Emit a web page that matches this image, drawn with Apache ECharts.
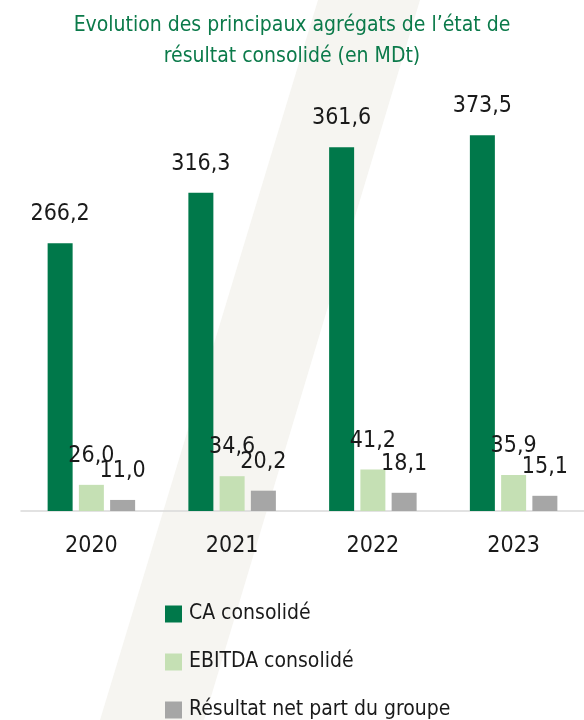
<!DOCTYPE html>
<html>
<head>
<meta charset="utf-8">
<style>html,body{margin:0;padding:0;background:#fff;}#chart{width:584px;height:720px;}</style>
<script src="https://cdn.jsdelivr.net/npm/echarts@6/dist/echarts.min.js"></script>
</head>
<body>
<div id="chart"></div>
<script>
const categories = ['2020', '2021', '2022', '2023'];
const caConsolide = [266.2, 316.3, 361.6, 373.5];
const ebitdaConsolide = [26.0, 34.6, 41.2, 35.9];
const resultatNet = [11.0, 20.2, 18.1, 15.1];
const seriesNames = ['CA consolidé', 'EBITDA consolidé', 'Résultat net part du groupe'];
const titleText = 'Evolution des principaux agrégats de l\u2019état de\nrésultat consolidé (en MDt)';

const FONT = "'Liberation Sans Narrow', 'DejaVu Sans Condensed', 'Roboto Condensed', Roboto, sans-serif";
const fmt = v => v.toFixed(1).replace('.', ',');

const chart = echarts.init(document.getElementById('chart'), null, {renderer: 'canvas'});
const labelCfg = {
  show: true, position: 'top', distance: 17.5,
  fontFamily: FONT, fontSize: 23, color: '#1a1a1a',
  formatter: p => fmt(p.value)
};
chart.setOption({
  backgroundColor: '#ffffff',
  animation: false,
  graphic: [{
    type: 'polygon', z: -10, silent: true,
    shape: {points: [[318, 0], [420, 0], [204, 720], [100, 720]]},
    style: {fill: '#f6f5f1'}
  }],
  title: {
    text: titleText, left: 'center', top: 5,
    textStyle: {fontFamily: FONT, fontSize: 21, lineHeight: 31, fontWeight: 'normal', color: '#0b7a4a'}
  },
  legend: {
    orient: 'vertical', left: 165, top: 603.5, height: 200, padding: 0,
    itemWidth: 17, itemHeight: 17, itemGap: 27, icon: 'rect',
    data: seriesNames,
    textStyle: {fontFamily: FONT, fontSize: 21, lineHeight: 20, color: '#1a1a1a', padding: [0, 0, 0, 2]}
  },
  grid: {left: 21, right: -5, top: 108.6, bottom: 209, containLabel: false},
  xAxis: {
    type: 'category', data: categories,
    axisLine: {lineStyle: {color: '#d9d9d9', width: 1.5}},
    axisTick: {show: false},
    axisLabel: {fontFamily: FONT, fontSize: 23, color: '#1a1a1a', margin: 23.5}
  },
  yAxis: {type: 'value', min: 0, max: 400, show: false, splitLine: {show: false}},
  series: [
    {name: seriesNames[0], type: 'bar', data: caConsolide, barWidth: 25, barGap: '25%', itemStyle: {color: '#00784a'}, label: labelCfg},
    {name: seriesNames[1], type: 'bar', data: ebitdaConsolide, barWidth: 25, barGap: '25%', itemStyle: {color: '#c5e0b4'}, label: labelCfg},
    {name: seriesNames[2], type: 'bar', data: resultatNet, barWidth: 25, barGap: '25%', itemStyle: {color: '#a6a6a6'}, label: labelCfg}
  ]
});
</script>
</body>
</html>
